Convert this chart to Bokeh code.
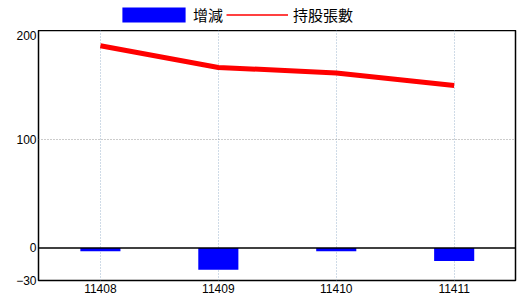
from bokeh.plotting import figure
from bokeh.layouts import column
from bokeh.models import FixedTicker, Span, Legend, LegendItem, ColumnDataSource, Range1d
from bokeh.embed import file_html
from bokeh.resources import INLINE

months = ["11408", "11409", "11410", "11411"]
change = [-3, -20, -3, -12]
holdings = [186, 166, 161, 149.5]
y_ticks = [-30, 0, 100, 200]

xs = list(range(len(months)))
src = ColumnDataSource(dict(x=xs, change=change, holdings=holdings, zero=[0]*len(xs)))

# legend strip
lg = figure(width=520, height=30, output_backend="svg", toolbar_location=None,
            x_range=Range1d(0, 520), y_range=Range1d(0, 30),
            x_axis_location=None, y_axis_location=None,
            min_border=0, min_border_left=0, min_border_right=0,
            min_border_top=0, min_border_bottom=0, outline_line_color=None)
lg.grid.visible = False
lb = lg.vbar(x=[-100], top=[-100], width=1, fill_color="#0000ff", line_color=None)
ll = lg.line(x=[-100, -99], y=[-100, -100], line_color="#ff0000", line_width=1.5)
common = dict(orientation="horizontal", glyph_height=19, label_height=15,
              label_text_font="Noto Sans CJK TC", label_text_font_size="15px",
              label_text_color="black", padding=0, margin=0,
              border_line_color=None, background_fill_alpha=0)
leg1 = Legend(items=[LegendItem(label="增減", renderers=[lb])],
              location=(76, 5), glyph_width=79, label_standoff=-4, **common)
leg2 = Legend(items=[LegendItem(label="持股張數", renderers=[ll])],
              location=(188, 5), glyph_width=62, label_standoff=5, **common)
lg.add_layout(leg1)
lg.add_layout(leg2)

p = figure(width=520, height=270, output_backend="svg", toolbar_location=None,
           x_range=Range1d(-0.525, 3.52), y_range=Range1d(-30, 200),
           min_border_left=38, min_border_right=5, min_border_top=0, min_border_bottom=20)
p.background_fill_color = "white"
p.border_fill_color = "white"
p.outline_line_color = "black"
p.outline_line_width = 1.5

p.vbar(x="x", top="zero", bottom="change", width=0.34, source=src,
       fill_color="#0000ff", line_color=None)
p.line(x="x", y="holdings", source=src, line_color="#ff0000", line_width=5)

p.add_layout(Span(location=0, dimension="width", line_color="black", line_width=1.5))

p.xaxis.ticker = FixedTicker(ticks=xs)
p.xaxis.major_label_overrides = {i: m for i, m in enumerate(months)}
p.yaxis.ticker = FixedTicker(ticks=y_ticks)
for ax in (p.xaxis[0], p.yaxis[0]):
    ax.axis_line_color = None
    ax.major_tick_line_color = None
    ax.minor_tick_line_color = None
    ax.major_tick_out = 0
    ax.major_tick_in = 0
    ax.minor_tick_out = 0
    ax.minor_tick_in = 0
    ax.major_label_text_font = "Liberation Sans"
    ax.major_label_text_font_size = "12px"
    ax.major_label_text_color = "black"
p.xaxis.major_label_standoff = 3
p.yaxis.major_label_standoff = 2

p.xgrid.ticker = FixedTicker(ticks=xs)
p.xgrid.grid_line_color = "#9fb6cf"
p.xgrid.grid_line_dash = "1 2"
p.ygrid.ticker = FixedTicker(ticks=[100])
p.ygrid.grid_line_color = "#999999"
p.ygrid.grid_line_dash = "1 2"

layout = column(lg, p, spacing=0)
open("out.html", "w").write(file_html(layout, INLINE))
